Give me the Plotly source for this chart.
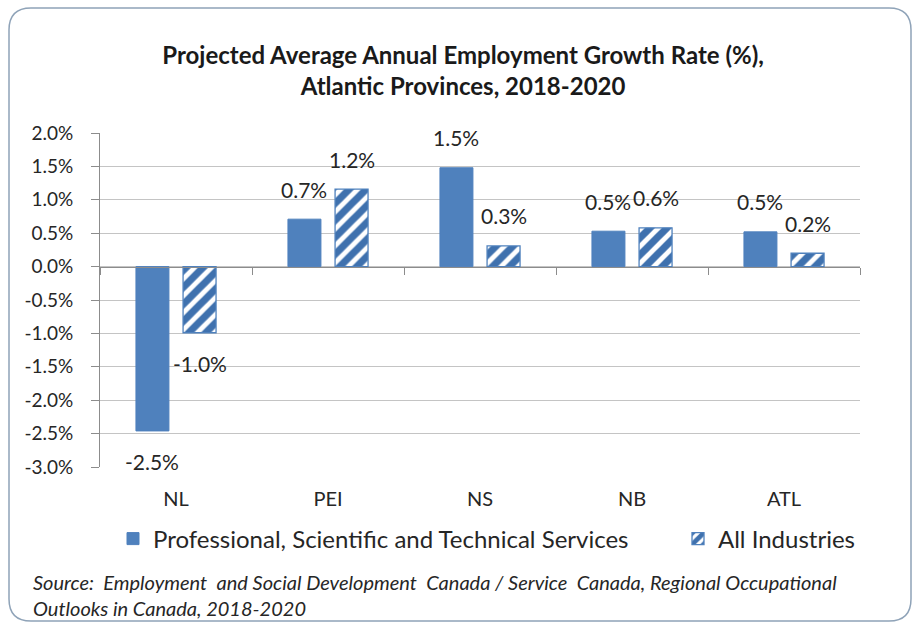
import plotly.graph_objects as go

categories = ["NL", "PEI", "NS", "NB", "ATL"]
psts_values = [-2.46, 0.71, 1.48, 0.53, 0.52]
all_values = [-0.99, 1.16, 0.31, 0.58, 0.20]
psts_labels = ["-2.5%", "0.7%", "1.5%", "0.5%", "0.5%"]
all_labels = ["-1.0%", "1.2%", "0.3%", "0.6%", "0.2%"]
series_names = ["Professional, Scientific and Technical Services", "All Industries"]
y_ticks = [2.0, 1.5, 1.0, 0.5, 0.0, -0.5, -1.0, -1.5, -2.0, -2.5, -3.0]
title_text = "Projected Average Annual Employment Growth Rate (%),<br>Atlantic Provinces, 2018-2020"
source_text = ("Source:  Employment  and Social Development  Canada / Service  Canada, Regional Occupational"
               "<br>Outlooks in Canada, 2018-2020")

W, H = 917, 629
ML, MR, MT, MB = 100, 57, 133, 162
BARGAP = 0.38
BLUE = "#4F81BD"
FONT = "Lato"
ymin, ymax = min(y_ticks), max(y_ticks)

fig = go.Figure()
fig.add_trace(go.Bar(
    x=categories, y=psts_values, name=series_names[0], legend="legend", showlegend=True,
    marker=dict(color=BLUE, line=dict(color=BLUE, width=1)),
))
fig.add_trace(go.Bar(
    x=categories, y=all_values, name=series_names[1], legend="legend2", showlegend=True,
    marker=dict(color="white", line=dict(color=BLUE, width=1.3),
                pattern=dict(shape="/", fgcolor="#3F71AE", bgcolor="white", size=12,
                             solidity=0.6, fgopacity=1)),
))
# invisible helper trace for the zero-line category tick marks
fig.add_trace(go.Scatter(x=[], y=[], xaxis="x2", showlegend=False, hoverinfo="skip"))

# data labels
plot_w = W - ML - MR
slot = plot_w / len(categories) * (1 - BARGAP) / 2
annotations = []
for vals, labs, sgn in ((psts_values, psts_labels, -1), (all_values, all_labels, 1)):
    for c, v, t in zip(categories, vals, labs):
        annotations.append(dict(
            x=c, y=v, text=t, showarrow=False, xref="x", yref="y",
            xshift=sgn * slot / 2, yshift=30 if v >= 0 else -31,
            yanchor="middle", font=dict(family=FONT, size=21, color="#262626"),
        ))
plot_h = H - MT - MB
annotations.append(dict(
    x=(31 - ML) / plot_w, y=-(595 - (H - MB)) / plot_h, xref="paper", yref="paper",
    xanchor="left", yanchor="middle", align="left", showarrow=False,
    text="<i>" + source_text + "</i>",
    font=dict(family=FONT, size=20, color="#262626"),
))

# rounded frame
x0, y0, x1, y1, r = 9, 8, 911, 621, 22
def px(xp):
    return (xp - ML) / plot_w
def py(yp):
    return ((H - MB) - yp) / plot_h
path = (f"M {px(x0+r)},{py(y0)} L {px(x1-r)},{py(y0)} "
        f"Q {px(x1)},{py(y0)} {px(x1)},{py(y0+r)} L {px(x1)},{py(y1-r)} "
        f"Q {px(x1)},{py(y1)} {px(x1-r)},{py(y1)} L {px(x0+r)},{py(y1)} "
        f"Q {px(x0)},{py(y1)} {px(x0)},{py(y1-r)} L {px(x0)},{py(y0+r)} "
        f"Q {px(x0)},{py(y0)} {px(x0+r)},{py(y0)} Z")

legend_common = dict(orientation="h", xref="container", xanchor="left",
                     y=1 - 539 / H, yref="container", yanchor="middle",
                     font=dict(family=FONT, size=24, color="#262626"),
                     itemwidth=30, bgcolor="rgba(0,0,0,0)", visible=True)

fig.update_layout(
    width=W, height=H,
    showlegend=True,
    margin=dict(l=ML, r=MR, t=MT, b=MB, autoexpand=False),
    paper_bgcolor="white", plot_bgcolor="white",
    barmode="group", bargap=BARGAP, bargroupgap=0.3,
    title=dict(text=f"<b>{title_text}</b>", x=0.505, xref="container", xanchor="center",
               y=1 - 64 / H, yref="container", yanchor="middle",
               font=dict(family=FONT, size=24, color="#1a1a1a")),
    font=dict(family=FONT, color="#262626"),
    xaxis=dict(type="category", showgrid=False, showline=False, ticks="",
               ticklabelstandoff=18,
               tickfont=dict(family=FONT, size=20, color="#262626"),
               range=[-0.5, len(categories) - 0.5], fixedrange=True),
    xaxis2=dict(overlaying="x", anchor="free", position=(0 - ymin) / (ymax - ymin),
                range=[-0.5, len(categories) - 0.5], showgrid=False, zeroline=False,
                showline=True, linecolor="#8c8c8c", linewidth=1.2,
                ticks="outside", ticklen=7, tickcolor="#8c8c8c",
                tickvals=[i - 0.5 for i in range(len(categories) + 1)],
                showticklabels=False, side="bottom"),
    yaxis=dict(range=[ymin, ymax], tickvals=y_ticks,
               ticktext=[f"{v:.1f}%" for v in y_ticks],
               showgrid=True, gridcolor="#c4c4c4", gridwidth=1,
               zeroline=False, showline=True, linecolor="#8c8c8c", linewidth=1,
               ticks="outside", ticklen=8, tickcolor="#8c8c8c",
               ticklabelstandoff=14,
               tickfont=dict(family=FONT, size=19, color="#262626")),
    legend=dict(x=113 / W, **legend_common),
    legend2=dict(x=678 / W, **legend_common),
    annotations=annotations,
    shapes=[dict(type="path", path=path, xref="paper", yref="paper",
                 line=dict(color="#8FA3B8", width=1.5), layer="below")],
)

fig.write_html("out.html")
